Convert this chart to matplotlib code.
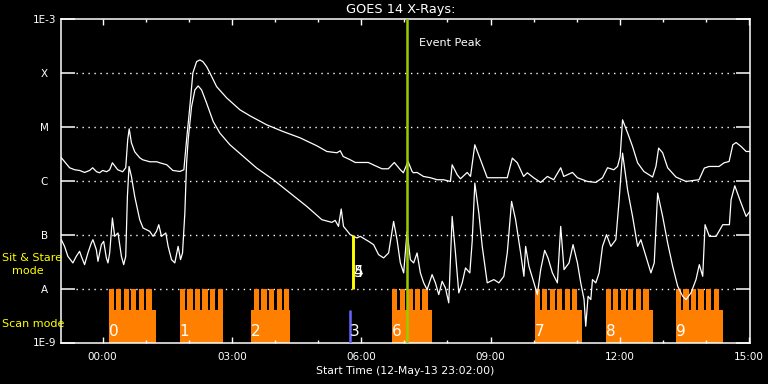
import numpy as np
import matplotlib.pyplot as plt

# GOES 14 X-ray flux, hours from 12-May-13 24:00, log10(W/m^2)
long_t = [-0.977, -0.767, -0.651, -0.535, -0.419, -0.302, -0.233, -0.140, -0.070, 0.0,
          0.093, 0.163, 0.226, 0.349, 0.465, 0.535, 0.581, 0.616, 0.667, 0.744,
          0.860, 0.930, 1.093, 1.256, 1.326, 1.488, 1.628, 1.791, 1.884, 1.947,
          2.023, 2.093, 2.179, 2.256, 2.326, 2.412, 2.488, 2.644, 2.877, 3.186,
          3.419, 3.807, 4.186, 4.581, 4.970, 5.202, 5.435, 5.512, 5.581, 5.744,
          5.860, 6.163, 6.326, 6.481, 6.628, 6.767, 6.907, 6.977, 7.086, 7.179,
          7.209, 7.295, 7.442, 7.605, 7.760, 7.907, 8.070, 8.109, 8.226, 8.302,
          8.458, 8.535, 8.635, 8.767, 8.923, 9.156, 9.388, 9.505, 9.621, 9.767,
          9.853, 10.0, 10.163, 10.319, 10.465, 10.628, 10.698, 10.900, 11.016, 11.249,
          11.442, 11.598, 11.714, 11.860, 11.947, 12.007, 12.063, 12.179, 12.295, 12.412,
          12.558, 12.760, 12.837, 12.900, 12.993, 13.109, 13.302, 13.535, 13.837, 13.960,
          14.070, 14.302, 14.419, 14.535, 14.621, 14.698, 14.814, 14.930, 15.047]
long_f = [-5.556, -5.759, -5.796, -5.809, -5.846, -5.809, -5.759, -5.833, -5.852, -5.809,
          -5.833, -5.796, -5.667, -5.796, -5.833, -5.759, -5.241, -5.037, -5.296, -5.463,
          -5.574, -5.611, -5.648, -5.648, -5.667, -5.704, -5.809, -5.828, -5.796, -5.241,
          -4.624, -4.000, -3.791, -3.759, -3.791, -3.883, -4.000, -4.254, -4.463, -4.685,
          -4.796, -4.963, -5.087, -5.204, -5.352, -5.457, -5.481, -5.444, -5.550, -5.611,
          -5.661, -5.661, -5.722, -5.778, -5.778, -5.661, -5.796, -5.852, -5.643, -5.828,
          -5.852, -5.846, -5.920, -5.944, -5.981, -5.981, -6.013, -5.704, -5.889, -5.963,
          -5.846, -5.920, -5.333, -5.611, -5.944, -5.944, -5.944, -5.580, -5.667, -5.920,
          -5.852, -5.944, -6.031, -5.920, -5.981, -5.759, -5.920, -5.846, -5.944, -6.013,
          -6.031, -5.944, -5.759, -5.796, -5.735, -5.550, -4.870, -5.111, -5.365, -5.667,
          -5.828, -5.931, -5.735, -5.394, -5.481, -5.759, -5.931, -6.013, -5.981, -5.765,
          -5.735, -5.735, -5.667, -5.643, -5.333, -5.291, -5.365, -5.457, -5.457]

short_t = [-0.960, -0.884, -0.807, -0.691, -0.612, -0.535, -0.495, -0.419, -0.342, -0.263,
           -0.226, -0.147, -0.109, -0.030, 0.023, 0.086, 0.123, 0.163, 0.226, 0.279,
           0.356, 0.435, 0.488, 0.535, 0.574, 0.612, 0.667, 0.744, 0.860, 0.937,
           1.093, 1.170, 1.249, 1.302, 1.365, 1.465, 1.519, 1.598, 1.674, 1.751,
           1.807, 1.853, 1.907, 1.947, 1.984, 2.063, 2.140, 2.216, 2.295, 2.412,
           2.565, 2.721, 2.953, 3.263, 3.574, 3.960, 4.349, 4.737, 5.086, 5.319,
           5.395, 5.472, 5.535, 5.588, 5.744, 5.900, 5.977, 6.170, 6.286, 6.402,
           6.519, 6.635, 6.751, 6.830, 6.907, 6.984, 7.063, 7.140, 7.216, 7.295,
           7.372, 7.449, 7.528, 7.644, 7.721, 7.798, 7.877, 7.953, 8.030, 8.109,
           8.186, 8.263, 8.342, 8.419, 8.519, 8.574, 8.635, 8.728, 8.807, 8.923,
           9.077, 9.193, 9.309, 9.388, 9.488, 9.581, 9.698, 9.774, 9.814, 9.891,
           10.007, 10.086, 10.163, 10.256, 10.333, 10.435, 10.551, 10.628, 10.705, 10.821,
           10.914, 11.016, 11.093, 11.170, 11.209, 11.263, 11.326, 11.365, 11.442, 11.519,
           11.598, 11.691, 11.791, 11.907, 11.984, 12.063, 12.179, 12.295, 12.412, 12.488,
           12.605, 12.721, 12.798, 12.877, 12.993, 13.109, 13.226, 13.342, 13.458, 13.535,
           13.651, 13.767, 13.844, 13.923, 13.977, 14.077, 14.233, 14.388, 14.542, 14.581,
           14.667, 14.784, 14.930, 15.047]
short_f = [-7.093, -7.217, -7.402, -7.524, -7.402, -7.309, -7.402, -7.556, -7.339, -7.154,
           -7.093, -7.278, -7.494, -7.185, -7.124, -7.431, -7.524, -7.339, -6.691, -7.031,
           -6.969, -7.402, -7.556, -7.402, -6.291, -5.735, -5.920, -6.291, -6.722, -6.876,
           -6.939, -7.031, -6.939, -6.815, -7.031, -6.969, -7.217, -7.463, -7.524, -7.217,
           -7.463, -7.339, -6.598, -5.672, -5.241, -4.624, -4.315, -4.241, -4.315, -4.561,
           -4.902, -5.117, -5.333, -5.550, -5.765, -5.981, -6.228, -6.476, -6.722, -6.772,
           -6.735, -6.846, -6.524, -6.846, -7.000, -7.061, -7.031, -7.124, -7.185, -7.370,
           -7.431, -7.339, -6.754, -7.093, -7.524, -7.709, -6.939, -7.463, -7.524, -7.339,
           -7.709, -7.894, -8.019, -7.741, -7.894, -8.111, -7.865, -7.987, -8.265, -6.661,
           -7.339, -8.080, -7.894, -7.617, -7.709, -7.124, -6.043, -6.598, -7.217, -7.894,
           -7.833, -7.894, -7.772, -7.339, -6.383, -6.722, -7.339, -7.772, -7.217, -7.587,
           -7.894, -8.111, -7.648, -7.291, -7.431, -7.709, -7.894, -6.846, -7.648, -7.524,
           -7.185, -7.524, -7.894, -8.204, -8.698, -8.143, -8.204, -7.833, -7.894, -7.709,
           -7.217, -7.000, -7.217, -7.093, -6.352, -5.487, -6.167, -6.661, -7.217, -7.093,
           -7.402, -7.709, -7.524, -6.228, -6.661, -7.154, -7.587, -7.957, -8.143, -8.204,
           -8.080, -7.833, -7.556, -7.772, -6.815, -7.031, -7.031, -6.815, -6.815, -6.352,
           -6.093, -6.352, -6.661, -6.537]

# scan mode blocks (hours)
scan_labels = ['0', '1', '2', '6', '7', '8', '9']
scan_start = [0.14, 1.79, 3.44, 6.72, 10.02, 11.67, 13.30]
scan_end = [1.23, 2.78, 4.35, 7.65, 11.12, 12.77, 14.40]
tooth_start = [0.14, 1.79, 3.51, 6.72, 10.02, 11.67, 13.30]
n_teeth = [6, 6, 5, 5, 6, 6, 6]
tooth_period = 0.175
tooth_width = 0.12
scan_level = -8.39

scan3_t = 5.73     # blue
stare_t = 5.80     # yellow, sit & stare 4/5
peak_t = 7.07      # event peak

ylevels = [-9, -8, -7, -6, -5, -4, -3]
ylabels = ['1E-9', 'A', 'B', 'C', 'M', 'X', '1E-3']
xticks = [0, 3, 6, 9, 12, 15]
xticklabels = ['00:00', '03:00', '06:00', '09:00', '12:00', '15:00']

orange = '#ff8000'

fig = plt.figure(figsize=(7.68, 3.84), dpi=100, facecolor='black')
ax = fig.add_axes([61 / 768, 1 - 342.5 / 384, 689 / 768, 323.5 / 384])
ax.set_facecolor('black')
ax.set_yscale('log')
ax.set_xlim(-58 / 60, 15.02)
ax.set_ylim(1e-9, 1e-3)

# scan blocks
for s, e, ts, n, lab in zip(scan_start, scan_end, tooth_start, n_teeth, scan_labels):
    ax.bar(s, 10 ** scan_level - 1e-9, width=e - s, bottom=1e-9, align='edge',
           color=orange, linewidth=0, zorder=1)
    starts = ts + tooth_period * np.arange(n)
    ax.bar(starts, 1e-8 - 1e-9, width=tooth_width, bottom=1e-9, align='edge',
           color=orange, linewidth=0, zorder=1)
    ax.text(s, 10 ** -8.8, lab, color='white', fontsize=11, ha='left', va='center', zorder=5)

# grid
for lv in ylevels[1:-1]:
    ax.axhline(10 ** lv, xmin=0.022, xmax=0.978, color='white', lw=1,
               dashes=(1, 3.3), zorder=0)

ax.plot(long_t, 10 ** np.array(long_f), color='white', lw=0.9, zorder=2)
ax.plot(short_t, 10 ** np.array(short_f), color='white', lw=0.9, zorder=2)

ax.vlines(scan3_t, 1e-9, 10 ** scan_level, color='#6666ff', lw=1.8, zorder=3)
ax.text(scan3_t, 10 ** -8.8, '3', color='white', fontsize=11, ha='left', va='center', zorder=5)
ax.vlines(stare_t, 1e-8, 1e-7, color='yellow', lw=2.1, zorder=3)
ax.text(stare_t + 0.02, 10 ** -7.7, '4', color='white', fontsize=11, ha='left', va='center', zorder=5)
ax.text(stare_t + 0.02, 10 ** -7.7, '5', color='white', fontsize=11, ha='left', va='center', zorder=5)
ax.axvline(peak_t, color='#99cc00', lw=1.8, zorder=4)
ax.text(peak_t + 0.26, 10 ** -3.44, 'Event Peak', color='white', fontsize=8, va='center')

for sp in ax.spines.values():
    sp.set_color('white')
    sp.set_linewidth(1.1)

ax.set_yticks([10.0 ** v for v in ylevels])
ax.set_yticklabels(ylabels, ha='center')
ax.yaxis.set_minor_locator(plt.NullLocator())
ax.tick_params(axis='y', which='major', direction='in', length=10, width=1.1,
               colors='white', labelsize=7.5, pad=12, right=True)
ax.set_xticks(xticks)
ax.set_xticklabels(xticklabels)
ax.set_xticks(np.arange(-0, 16, 1), minor=True)
ax.tick_params(axis='x', which='major', direction='in', length=4.3, width=1,
               colors='white', labelsize=7.5, pad=6.5, top=True)
ax.tick_params(axis='x', which='minor', direction='in', length=2.2, width=1,
               colors='white', top=True)
ax.set_xlabel('Start Time (12-May-13 23:02:00)', color='white', fontsize=7.8, labelpad=3)

fig.text(401 / 768, 1 - 10 / 384, 'GOES 14 X-Rays:', color='white', fontsize=9.3,
         ha='center', va='center')
fig.text(2 / 768, 1 - 258 / 384, 'Sit & Stare', color='yellow', fontsize=8, ha='left', va='center')
fig.text(12 / 768, 1 - 271 / 384, 'mode', color='yellow', fontsize=8, ha='left', va='center')
fig.text(2 / 768, 1 - 324 / 384, 'Scan mode', color='yellow', fontsize=8, ha='left', va='center')

fig.savefig('out.png', dpi=100, facecolor='black')
